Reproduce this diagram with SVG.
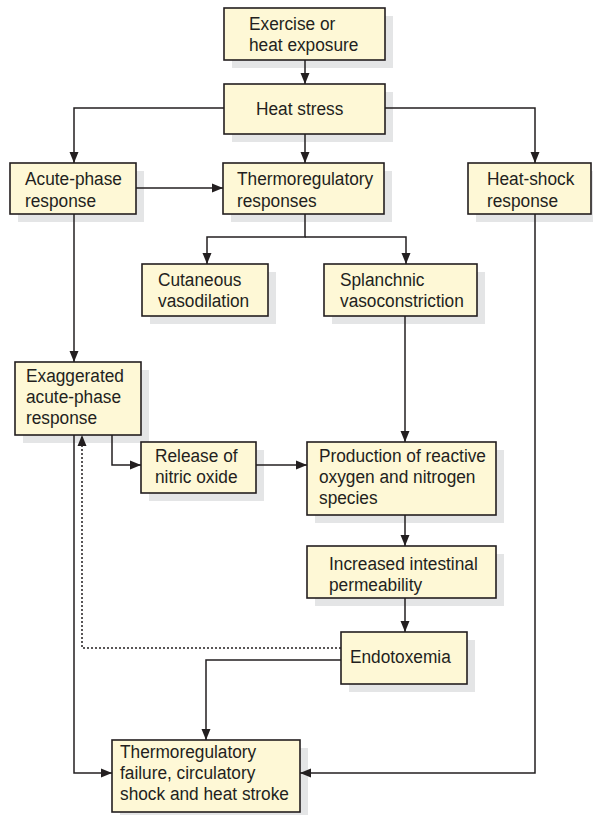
<svg xmlns="http://www.w3.org/2000/svg" width="593" height="815" viewBox="0 0 593 815">
  <defs>
    <marker id="arrow" viewBox="0 0 11 10" refX="11" refY="5" markerWidth="11" markerHeight="10" markerUnits="userSpaceOnUse" orient="auto">
      <path d="M0,0.5 L11,5 L0,9.5 z" fill="#231f20"/>
    </marker>
  </defs>
  <style>
    .shadow { fill: #e4e5e6; }
    .box { fill: #fef8d6; stroke: #231f20; stroke-width: 1.6; }
    /* slightly condensed sans */
    .label { font-family: "Liberation Sans", Arial, sans-serif; font-size: 18px; fill: #231f20; }
    .link { fill: none; stroke: #231f20; stroke-width: 1.5; }
    .dotted { stroke-dasharray: 2 2; }
  </style>
  <rect width="593" height="815" fill="#ffffff"/>

  <g id="exercise">
    <rect class="shadow" x="232" y="16" width="161" height="52"/>
    <rect class="box" x="224" y="8" width="161" height="52"/>
    <text class="label" transform="translate(249,30) scale(.96,1)">Exercise or</text>
    <text class="label" transform="translate(249,51) scale(.96,1)">heat exposure</text>
  </g>

  <g id="heat-stress">
    <rect class="shadow" x="232" y="92" width="161" height="50"/>
    <rect class="box" x="224" y="84" width="161" height="50"/>
    <text class="label" transform="translate(256,115) scale(.96,1)">Heat stress</text>
  </g>

  <g id="acute-phase">
    <rect class="shadow" x="18" y="171" width="126" height="51"/>
    <rect class="box" x="10" y="163" width="126" height="51"/>
    <text class="label" transform="translate(25,185) scale(.96,1)">Acute-phase</text>
    <text class="label" transform="translate(25,207) scale(.96,1)">response</text>
  </g>

  <g id="thermoregulatory">
    <rect class="shadow" x="231" y="171" width="161" height="51"/>
    <rect class="box" x="223" y="163" width="161" height="51"/>
    <text class="label" transform="translate(237,185) scale(.96,1)">Thermoregulatory</text>
    <text class="label" transform="translate(237,207) scale(.96,1)">responses</text>
  </g>

  <g id="heat-shock">
    <rect class="shadow" x="476" y="171" width="123" height="51"/>
    <rect class="box" x="468" y="163" width="123" height="51"/>
    <text class="label" transform="translate(487,185) scale(.96,1)">Heat-shock</text>
    <text class="label" transform="translate(487,207) scale(.96,1)">response</text>
  </g>

  <g id="cutaneous">
    <rect class="shadow" x="150" y="272" width="126" height="52"/>
    <rect class="box" x="142" y="264" width="126" height="52"/>
    <text class="label" transform="translate(158,286) scale(.96,1)">Cutaneous</text>
    <text class="label" transform="translate(158,307) scale(.96,1)">vasodilation</text>
  </g>

  <g id="splanchnic">
    <rect class="shadow" x="332" y="272" width="153" height="52"/>
    <rect class="box" x="324" y="264" width="153" height="52"/>
    <text class="label" transform="translate(340,286) scale(.96,1)">Splanchnic</text>
    <text class="label" transform="translate(340,307) scale(.96,1)">vasoconstriction</text>
  </g>

  <g id="exaggerated">
    <rect class="shadow" x="23" y="370" width="126" height="73"/>
    <rect class="box" x="15" y="362" width="126" height="73"/>
    <text class="label" transform="translate(26,382) scale(.96,1)">Exaggerated</text>
    <text class="label" transform="translate(26,403) scale(.96,1)">acute-phase</text>
    <text class="label" transform="translate(26,424) scale(.96,1)">response</text>
  </g>

  <g id="nitric-oxide">
    <rect class="shadow" x="149" y="450" width="115" height="51"/>
    <rect class="box" x="141" y="442" width="115" height="51"/>
    <text class="label" transform="translate(155,462) scale(.96,1)">Release of</text>
    <text class="label" transform="translate(155,483) scale(.96,1)">nitric oxide</text>
  </g>

  <g id="reactive-species">
    <rect class="shadow" x="315" y="450" width="189" height="73"/>
    <rect class="box" x="307" y="442" width="189" height="73"/>
    <text class="label" transform="translate(319,462) scale(.96,1)">Production of reactive</text>
    <text class="label" transform="translate(319,483) scale(.96,1)">oxygen and nitrogen</text>
    <text class="label" transform="translate(319,504) scale(.96,1)">species</text>
  </g>

  <g id="permeability">
    <rect class="shadow" x="315" y="554" width="189" height="52"/>
    <rect class="box" x="307" y="546" width="189" height="52"/>
    <text class="label" transform="translate(329,570) scale(.96,1)">Increased intestinal</text>
    <text class="label" transform="translate(329,591) scale(.96,1)">permeability</text>
  </g>

  <g id="endotoxemia">
    <rect class="shadow" x="349" y="640" width="126" height="52"/>
    <rect class="box" x="341" y="632" width="126" height="52"/>
    <text class="label" transform="translate(350,663) scale(.96,1)">Endotoxemia</text>
  </g>

  <g id="heat-stroke">
    <rect class="shadow" x="120" y="748" width="188" height="72"/>
    <rect class="box" x="112" y="740" width="188" height="72"/>
    <text class="label" transform="translate(120,758) scale(.96,1)">Thermoregulatory</text>
    <text class="label" transform="translate(120,779) scale(.96,1)">failure, circulatory</text>
    <text class="label" transform="translate(120,800) scale(.96,1)">shock and heat stroke</text>
  </g>

  <!-- connectors, drawn over the shadows so every arrowhead stays visible -->
  <g id="connectors">
    <path class="link" d="M305,60 V84" marker-end="url(#arrow)"/>
    <path class="link" d="M305,134 V163" marker-end="url(#arrow)"/>
    <path class="link" d="M224,108 H74 V163" marker-end="url(#arrow)"/>
    <path class="link" d="M385,108 H535 V163" marker-end="url(#arrow)"/>
    <path class="link" d="M136,188 H223" marker-end="url(#arrow)"/>
    <path class="link" d="M305,214 V237 H207 V264" marker-end="url(#arrow)"/>
    <path class="link" d="M305,237 H406 V264" marker-end="url(#arrow)"/>
    <path class="link" d="M74,214 V362" marker-end="url(#arrow)"/>
    <path class="link" d="M112,435 V465 H141" marker-end="url(#arrow)"/>
    <path class="link" d="M256,465 H307" marker-end="url(#arrow)"/>
    <path class="link" d="M405,316 V442" marker-end="url(#arrow)"/>
    <path class="link" d="M405,515 V546" marker-end="url(#arrow)"/>
    <path class="link" d="M405,598 V632" marker-end="url(#arrow)"/>
    <path class="link dotted" d="M341,648 H82 V435" marker-end="url(#arrow)"/>
    <path class="link" d="M341,660 H206 V740" marker-end="url(#arrow)"/>
    <path class="link" d="M74,435 V773 H112" marker-end="url(#arrow)"/>
    <path class="link" d="M535,214 V773 H300" marker-end="url(#arrow)"/>
  </g>
</svg>
